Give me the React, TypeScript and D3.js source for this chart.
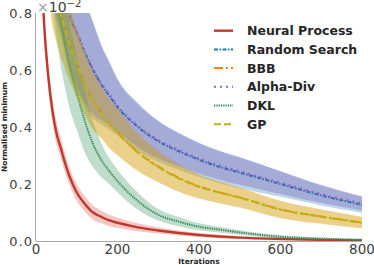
import React from 'react';
import * as d3 from 'd3';

// iteration grid shared by every series
const iters = [10, 20, 30, 40, 50, 60, 70, 80, 90, 100, 120, 140, 160, 180, 200, 250, 300, 350, 400, 450, 500, 600, 700, 800];

// means (x10^-2) and half-widths of the shaded band
const npMean = [1.1, 0.76, 0.58, 0.46, 0.38, 0.33, 0.28, 0.235, 0.2, 0.17, 0.13, 0.1, 0.085, 0.072, 0.064, 0.048, 0.037, 0.028, 0.021, 0.016, 0.012, 0.007, 0.004, 0.002];
const npSpread = [0.06, 0.05, 0.045, 0.04, 0.04, 0.035, 0.035, 0.03, 0.03, 0.03, 0.027, 0.025, 0.022, 0.02, 0.018, 0.014, 0.011, 0.009, 0.007, 0.006, 0.005, 0.003, 0.002, 0.002];

const rsMean = [1.5, 1.35, 1.2, 1.08, 0.98, 0.92, 0.86, 0.8, 0.76, 0.73, 0.66, 0.6, 0.55, 0.51, 0.47, 0.4, 0.35, 0.315, 0.285, 0.26, 0.24, 0.2, 0.16, 0.127];
const rsSpread = [0.25, 0.24, 0.23, 0.22, 0.21, 0.2, 0.2, 0.2, 0.2, 0.2, 0.19, 0.17, 0.14, 0.12, 0.1, 0.085, 0.072, 0.065, 0.06, 0.057, 0.055, 0.045, 0.035, 0.028];

const bbbMean = [1.4, 1.2, 1.05, 0.93, 0.86, 0.8, 0.75, 0.7, 0.662, 0.622, 0.552, 0.492, 0.452, 0.412, 0.382, 0.312, 0.262, 0.222, 0.192, 0.171, 0.153, 0.111, 0.086, 0.065];
const bbbSpread = [0.2, 0.19, 0.18, 0.17, 0.16, 0.15, 0.14, 0.13, 0.125, 0.12, 0.11, 0.1, 0.09, 0.085, 0.08, 0.065, 0.055, 0.048, 0.042, 0.038, 0.035, 0.03, 0.025, 0.02];

const adMean = [1.52, 1.36, 1.21, 1.09, 0.99, 0.93, 0.87, 0.81, 0.77, 0.735, 0.665, 0.605, 0.555, 0.515, 0.475, 0.405, 0.355, 0.32, 0.29, 0.265, 0.245, 0.205, 0.165, 0.132];
const adSpread = [0.24, 0.23, 0.22, 0.21, 0.2, 0.19, 0.19, 0.19, 0.19, 0.19, 0.18, 0.16, 0.13, 0.11, 0.09, 0.075, 0.065, 0.058, 0.053, 0.05, 0.048, 0.04, 0.032, 0.025];

const dklMean = [1.6, 1.35, 1.15, 1.0, 0.88, 0.78, 0.7, 0.63, 0.57, 0.52, 0.42, 0.34, 0.285, 0.245, 0.21, 0.14, 0.092, 0.068, 0.05, 0.04, 0.03, 0.015, 0.008, 0.004];
const dklSpread = [0.2, 0.19, 0.18, 0.17, 0.16, 0.16, 0.155, 0.15, 0.14, 0.13, 0.11, 0.08, 0.06, 0.045, 0.04, 0.03, 0.02, 0.016, 0.012, 0.01, 0.008, 0.005, 0.004, 0.003];

const gpMean = [1.4, 1.2, 1.05, 0.93, 0.86, 0.8, 0.75, 0.7, 0.66, 0.62, 0.55, 0.49, 0.45, 0.41, 0.38, 0.31, 0.26, 0.22, 0.19, 0.17, 0.152, 0.11, 0.085, 0.064];
const gpSpread = [0.2, 0.19, 0.18, 0.17, 0.16, 0.15, 0.14, 0.13, 0.125, 0.12, 0.11, 0.1, 0.09, 0.085, 0.08, 0.065, 0.055, 0.048, 0.042, 0.038, 0.035, 0.03, 0.025, 0.02];

const series = [
  { name: 'Neural Process', mean: npMean, spread: npSpread, color: '#c0392b', fill: '#d9453a', width: 2.4, dash: null },
  { name: 'Random Search', mean: rsMean, spread: rsSpread, color: '#1f77b4', fill: '#1f77b4', width: 2, dash: '4,1.5,1.5,1.5' },
  { name: 'BBB', mean: bbbMean, spread: bbbSpread, color: '#ff7f0e', fill: '#ff7f0e', width: 2, dash: '9,3,2,3' },
  { name: 'Alpha-Div', mean: adMean, spread: adSpread, color: '#9467bd', fill: '#6f4aaf', width: 2, dash: '2,4' },
  { name: 'DKL', mean: dklMean, spread: dklSpread, color: '#2e8b57', fill: '#2e8b57', width: 2, dash: '1.3,1' },
  { name: 'GP', mean: gpMean, spread: gpSpread, color: '#b5b51d', fill: '#bcbd22', width: 2, dash: '7,3' },
];

const xTicks = [0, 200, 400, 600, 800];
const yTicks = [0, 0.2, 0.4, 0.6, 0.8];

export default function App() {
  const width = 374;
  const height = 265;
  const left = 36, right = 362, top = 13, bottom = 241;

  const x = d3.scaleLinear().domain([0, 800]).range([left, right]);
  const y = d3.scaleLinear().domain([0, 0.8]).range([bottom, top]);

  const line = d3.line<number>()
    .x((d, i) => x(iters[i]))
    .y(d => y(d))
    .curve(d3.curveMonotoneX);

  const font = 'DejaVu Sans, sans-serif';

  return (
    <svg width={width} height={height} style={{ position: 'absolute', left: 0, top: 0, background: '#fff' }} fontFamily={font}>
      <defs>
        <clipPath id="plot">
          <rect x={left} y={top} width={right - left} height={bottom - top} />
        </clipPath>
      </defs>
      <g clipPath="url(#plot)">
        {series.map(s => {
          const area = d3.area<number>()
            .x((d, i) => x(iters[i]))
            .y0((d, i) => y(Math.max(0, d - s.spread[i])))
            .y1((d, i) => y(d + s.spread[i]))
            .curve(d3.curveMonotoneX);
          return (
            <g key={s.name}>
              <path d={area(s.mean) || ''} fill={s.fill} fillOpacity={0.3} stroke="none" />
              <path d={line(s.mean) || ''} fill="none" stroke={s.color} strokeWidth={s.width} strokeDasharray={s.dash || undefined} />
            </g>
          );
        })}
      </g>

      {/* spines */}
      <line x1={left - 0.5} x2={left - 0.5} y1={top} y2={bottom} stroke="#aaa" strokeWidth={1} />
      <line x1={left} x2={right} y1={bottom + 0.5} y2={bottom + 0.5} stroke="#aaa" strokeWidth={1} />

      {/* y ticks */}
      {yTicks.map(t => (
        <text key={t} x={33} y={y(t)} dy="0.36em" textAnchor="end" fontSize={13} letterSpacing={1} fill="#404040">
          {t.toFixed(1)}
        </text>
      ))}
      {/* x ticks */}
      {xTicks.map(t => (
        <text key={t} x={x(t)} y={254} textAnchor="middle" fontSize={13.5} fill="#404040">
          {t}
        </text>
      ))}

      {/* offset text */}
      <text x={37} y={12} fontSize={14} fill="#404040">
        <tspan fill="#999">×</tspan>10<tspan fontSize={10} dy={-5}>−2</tspan>
      </text>

      <text x={199} y={264} textAnchor="middle" fontSize={7.5} fontWeight="bold" fill="#262626">Iterations</text>
      <text transform={`translate(7,${(top + bottom) / 2}) rotate(-90)`} textAnchor="middle" fontSize={7.5} fontWeight="bold" fill="#262626">
        Normalised minimum
      </text>

      {/* legend */}
      {series.map((s, i) => {
        const ly = 30.7 + i * 18.7;
        return (
          <g key={s.name}>
            <line x1={214} x2={233} y1={ly} y2={ly} stroke={s.color} strokeWidth={s.width} strokeDasharray={s.dash || undefined} />
            <text x={247} y={ly} dy="0.36em" fontSize={12.5} fontWeight="bold" fill="#262626">{s.name}</text>
          </g>
        );
      })}
    </svg>
  );
}
